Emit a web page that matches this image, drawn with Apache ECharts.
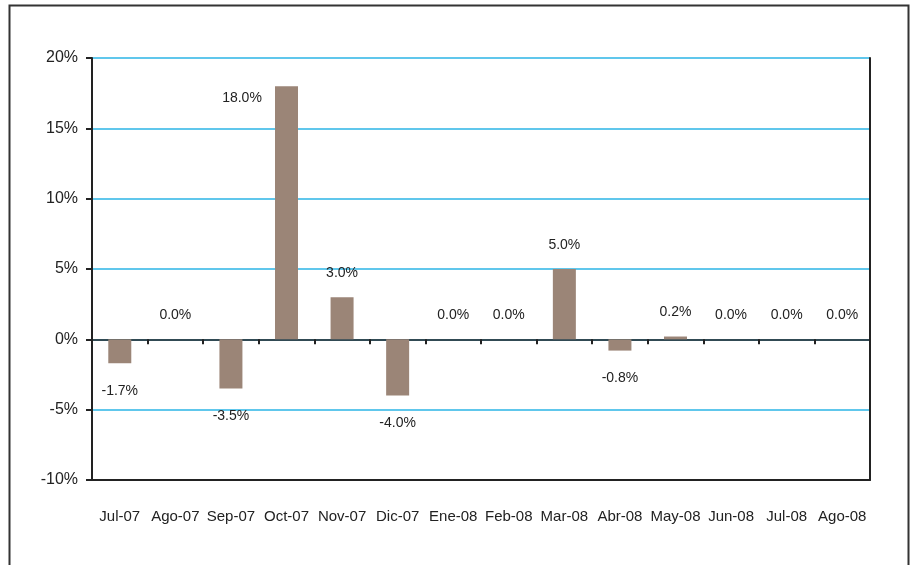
<!DOCTYPE html>
<html>
<head>
<meta charset="utf-8">
<script src="https://cdn.jsdelivr.net/npm/echarts@6/dist/echarts.min.js"></script>
<style>
  html, body { margin: 0; padding: 0; background: #fff; }
  #chart { width: 914px; height: 565px; }
</style>
</head>
<body>
<div id="chart"></div>
<script>
var categories = ['Jul-07', 'Ago-07', 'Sep-07', 'Oct-07', 'Nov-07', 'Dic-07', 'Ene-08',
  'Feb-08', 'Mar-08', 'Abr-08', 'May-08', 'Jun-08', 'Jul-08', 'Ago-08']
var values = [-1.7, 0.0, -3.5, 18.0, 3.0, -4.0, 0.0, 0.0, 5.0, -0.8, 0.2, 0.0, 0.0, 0.0]
var yTicks = [-10, -5, 0, 5, 10, 15, 20]

var font = '"Liberation Sans", Arial, sans-serif'

var barData = values.map(function (v, i) {
  var item = { value: v, label: v < 0 ? { position: 'bottom', distance: 21 } : { position: 'top' } }
  // the top label sits beside the tall bar in the original
  if (v === 18.0) {
    item.label = { position: [-33, 12], align: 'center', verticalAlign: 'middle' }
  }
  return item
})

var chart = echarts.init(document.getElementById('chart'))
chart.setOption({
  animation: false,
  backgroundColor: '#fff',
  graphic: [
    {
      type: 'rect',
      shape: { x: 9.5, y: 5.5, width: 899, height: 620 },
      style: { fill: 'none', stroke: '#333', lineWidth: 2 },
      z: -1
    }
  ],
  grid: { left: 92, top: 58, width: 778, height: 422 },
  xAxis: [
    {
      type: 'category',
      data: categories,
      position: 'bottom',
      axisLine: { onZero: false, lineStyle: { color: '#222', width: 2 } },
      axisTick: { show: false },
      axisLabel: { color: '#222', fontSize: 15, fontFamily: font, margin: 29, interval: 0 },
      splitLine: { show: false }
    },
    {
      type: 'category',
      data: categories,
      position: 'top',
      axisLine: { onZero: true, lineStyle: { color: '#222', width: 1.5 } },
      axisTick: { show: true, inside: true, length: 5, lineStyle: { color: '#222', width: 2 } },
      axisLabel: { show: false },
      splitLine: { show: false }
    }
  ],
  yAxis: [
    {
      type: 'value',
      min: yTicks[0],
      max: yTicks[yTicks.length - 1],
      interval: 5,
      axisLine: { show: true, lineStyle: { color: '#222', width: 2 } },
      axisTick: { show: true, length: 6, lineStyle: { color: '#222', width: 2 } },
      axisLabel: {
        color: '#222', fontSize: 16, fontFamily: font, margin: 14,
        formatter: function (v) { return v + '%' }
      },
      splitLine: { show: true, lineStyle: { color: '#2bb5e6', width: 1.5 } }
    },
    {
      type: 'value',
      position: 'right',
      min: yTicks[0],
      max: yTicks[yTicks.length - 1],
      interval: 5,
      axisLine: { show: true, lineStyle: { color: '#222', width: 2 } },
      axisTick: { show: false },
      axisLabel: { show: false },
      splitLine: { show: false }
    }
  ],
  series: [
    {
      type: 'bar',
      xAxisIndex: 0,
      yAxisIndex: 0,
      data: barData,
      barWidth: 23,
      itemStyle: { color: '#9b8577' },
      label: {
        show: true,
        distance: 17,
        color: '#222',
        fontSize: 14,
        fontFamily: font,
        formatter: function (p) { return p.value.toFixed(1) + '%' }
      }
    }
  ]
})
</script>
</body>
</html>
